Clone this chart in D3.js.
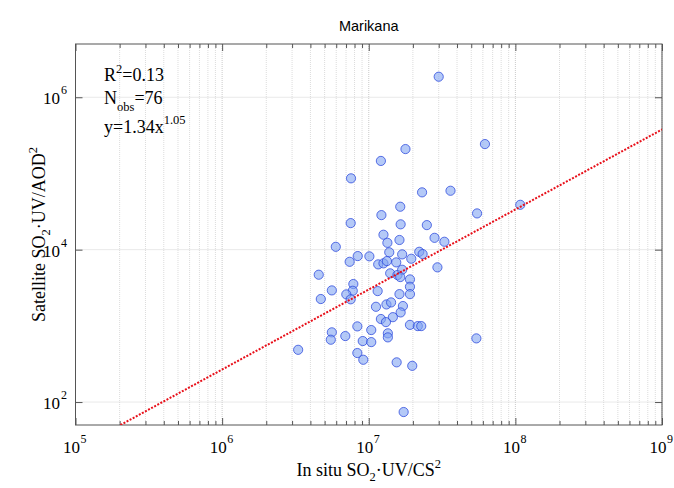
<!DOCTYPE html>
<html><head><meta charset="utf-8">
<script src="https://cdn.jsdelivr.net/npm/d3@7"></script>
<style>body{margin:0;background:#fff}svg{display:block}</style>
</head><body>
<svg id="chart" width="674" height="488"></svg>
<script>
// ---- data ----
const insituValues = [
  3.0e7, 6.2e7, 1.78e7, 1.21e7, 7.57e6, 2.31e7, 3.61e7, 1.08e8, 1.64e7, 1.22e7,
  5.48e7, 7.53e6, 1.65e7, 2.49e7, 1.26e7, 2.81e7, 1.34e7, 1.62e7, 3.28e7, 5.96e6,
  1.38e7, 1.69e7, 2.21e7, 2.33e7, 1.95e7, 7.41e6, 8.41e6, 1.01e7, 1.16e7, 1.26e7,
  1.33e7, 1.54e7, 2.94e7, 4.56e6, 1.40e7, 1.57e7, 1.69e7, 1.64e7, 1.91e7, 7.85e6,
  5.60e6, 7.78e6, 7.03e6, 1.15e7, 1.91e7, 1.62e7, 1.91e7, 4.71e6, 7.53e6, 1.32e7,
  1.42e7, 1.12e7, 1.71e7, 1.65e7, 1.46e7, 1.21e7, 1.31e7, 1.91e7, 2.16e7, 2.28e7,
  8.36e6, 5.60e6, 5.51e6, 6.92e6, 1.04e7, 9.10e6, 1.04e7, 1.35e7, 1.35e7, 5.42e7,
  3.30e6, 8.36e6, 9.18e6, 1.55e7, 1.98e7, 1.73e7
];
const satelliteValues = [
  1.86e6, 2.43e5, 2.09e5, 1.46e5, 8.63e4, 5.65e4, 5.93e4, 3.88e4, 3.66e4, 2.84e4,
  2.99e4, 2.23e4, 2.15e4, 2.10e4, 1.57e4, 1.43e4, 1.23e4, 1.34e4, 1.27e4, 1.09e4,
  9230, 8670, 9380, 8750, 7600, 6930, 8240, 8170, 6410, 6610,
  7080, 6810, 5860, 4690, 4890, 4650, 5450, 4370, 4070, 3540,
  2920, 2890, 2590, 2860, 3260, 2610, 2610, 2250, 2230, 1910,
  2030, 1780, 1820, 1500, 1300, 1230, 1120, 1030, 993, 993,
  984, 822, 658, 735, 881, 632, 612, 798, 706, 685,
  485, 440, 359, 332, 299, 74
];
const xTickExponents = [5, 6, 7, 8, 9];
const yTickExponents = [2, 4, 6];
const fitCoefficient = 1.34e-4;
const fitExponent = 1.05;
const titleText = "Marikana";
const statR2 = "0.13";
const statNobs = "76";
const statFitCoef = "1.34";
const statFitExp = "1.05";

// ---- layout ----
const svg = d3.select("#chart");
const L = 75.5, R = 662, T = 44, B = 425;
const x = d3.scaleLog().domain([1e5, 1e9]).range([L, R]);
const y = d3.scaleLog().domain([50, 5e6]).range([B, T]);
const serif = "'Liberation Serif','Times New Roman',Times,serif";
const sans = "'Liberation Sans',Arial,Helvetica,sans-serif";

svg.append("rect").attr("width", 674).attr("height", 488).attr("fill", "#fff");

// grid
const minorX = [];
for (let e = 5; e < 9; e++) for (let m = 2; m <= 9; m++) minorX.push(m * Math.pow(10, e));
const majorX = xTickExponents.map(e => Math.pow(10, e));
const majorY = yTickExponents.map(e => Math.pow(10, e));
const g = svg.append("g");
g.selectAll(".gmx").data(minorX).join("line")
  .attr("x1", d => x(d)).attr("x2", d => x(d)).attr("y1", T).attr("y2", B)
  .attr("stroke", "#dcdcdc").attr("stroke-width", 1).attr("stroke-dasharray", "1,1");
g.selectAll(".gMx").data(majorX).join("line")
  .attr("x1", d => x(d)).attr("x2", d => x(d)).attr("y1", T).attr("y2", B)
  .attr("stroke", "#cacaca").attr("stroke-width", 1).attr("stroke-dasharray", "1,1");
g.selectAll(".gMy").data(majorY).join("line")
  .attr("x1", L).attr("x2", R).attr("y1", d => y(d)).attr("y2", d => y(d))
  .attr("stroke", "#d2d2d2").attr("stroke-width", 1).attr("stroke-dasharray", "1,1");

// axes (ticks inward)
const axB = d3.axisBottom(x).tickValues(majorX).tickSize(-7).tickFormat("");
const axT = d3.axisTop(x).tickValues(majorX).tickSize(-7).tickFormat("");
const axBm = d3.axisBottom(x).tickValues(minorX).tickSize(-4).tickFormat("");
const axTm = d3.axisTop(x).tickValues(minorX).tickSize(-4).tickFormat("");
const axL = d3.axisLeft(y).tickValues(majorY).tickSize(-7).tickFormat("");
const axR = d3.axisRight(y).tickValues(majorY).tickSize(-7).tickFormat("");
[[axB, `translate(0,${B})`], [axBm, `translate(0,${B})`], [axT, `translate(0,${T})`], [axTm, `translate(0,${T})`],
 [axL, `translate(${L},0)`], [axR, `translate(${R},0)`]].forEach(([a, tr]) => {
  const gg = svg.append("g").attr("transform", tr).call(a);
  gg.select(".domain").remove();
  gg.selectAll("line").attr("stroke", "#555");
});
svg.append("rect").attr("x", L).attr("y", T).attr("width", R - L).attr("height", B - T)
  .attr("fill", "none").attr("stroke", "#555").attr("stroke-width", 1);

// tick labels
const xl = svg.append("g").attr("font-family", serif).attr("fill", "#000");
xTickExponents.forEach(e => {
  const px = x(Math.pow(10, e)) - 4;
  xl.append("text").attr("x", px).attr("y", 453).attr("text-anchor", "middle").attr("font-size", 17).text("10");
  xl.append("text").attr("x", px + 9).attr("y", 443).attr("font-size", 12).text(e);
});
const yl = svg.append("g").attr("font-family", serif).attr("fill", "#000");
yTickExponents.forEach(e => {
  const py = y(Math.pow(10, e));
  yl.append("text").attr("x", 60).attr("y", py + 7).attr("text-anchor", "end").attr("font-size", 17).text("10");
  yl.append("text").attr("x", 61).attr("y", py - 3).attr("font-size", 12).text(e);
});

// clip
svg.append("clipPath").attr("id", "clip").append("rect")
  .attr("x", L).attr("y", T).attr("width", R - L).attr("height", B - T);

// points
const pts = insituValues.map((v, i) => [v, satelliteValues[i]]);
svg.append("g").attr("clip-path", "url(#clip)").selectAll("circle").data(pts).join("circle")
  .attr("cx", d => x(d[0])).attr("cy", d => y(d[1])).attr("r", 4.6)
  .attr("fill", "rgba(130,165,242,0.6)").attr("stroke", "rgba(40,70,220,0.75)").attr("stroke-width", 1);

// fit line
const fit = v => fitCoefficient * Math.pow(v, fitExponent);
const xStart = Math.pow(y.domain()[0] / fitCoefficient, 1 / fitExponent);
const fitX = d3.range(0, 51).map(i => xStart * Math.pow(1e9 / xStart, i / 50));
svg.append("path").attr("clip-path", "url(#clip)")
  .datum(fitX)
  .attr("d", d3.line().x(d => x(d)).y(d => y(fit(d))))
  .attr("fill", "none").attr("stroke", "#e8101a").attr("stroke-width", 2).attr("stroke-dasharray", "2,1.5");

// title
svg.append("text").attr("x", (L + R) / 2).attr("y", 31).attr("text-anchor", "middle")
  .attr("font-family", sans).attr("font-size", 14.5).text(titleText);

// x label
const xlab = svg.append("text").attr("x", (L + R) / 2).attr("y", 476).attr("text-anchor", "middle")
  .attr("font-family", serif).attr("font-size", 18);
xlab.append("tspan").text("In situ SO");
xlab.append("tspan").attr("font-size", 12.5).attr("dy", 5).text("2");
xlab.append("tspan").attr("dy", -5).text("·UV/CS");
xlab.append("tspan").attr("font-size", 12.5).attr("dy", -8).text("2");

// y label
const ylab = svg.append("text").attr("transform", `translate(45,${(T + B) / 2}) rotate(-90)`)
  .attr("text-anchor", "middle").attr("font-family", serif).attr("font-size", 18);
ylab.append("tspan").text("Satellite SO");
ylab.append("tspan").attr("font-size", 12.5).attr("dy", 5).text("2");
ylab.append("tspan").attr("dy", -5).text("·UV/AOD");
ylab.append("tspan").attr("font-size", 12.5).attr("dy", -8).text("2");

// stats annotation
const ann = svg.append("g").attr("font-family", serif).attr("font-size", 18).attr("fill", "#000");
const t1 = ann.append("text").attr("x", 104).attr("y", 81);
t1.append("tspan").text("R");
t1.append("tspan").attr("font-size", 12.5).attr("dy", -8).text("2");
t1.append("tspan").attr("dy", 8).text("=" + statR2);
const t2 = ann.append("text").attr("x", 104).attr("y", 104);
t2.append("tspan").text("N");
t2.append("tspan").attr("font-size", 12.5).attr("dy", 7).text("obs");
t2.append("tspan").attr("dy", -7).text("=" + statNobs);
const t3 = ann.append("text").attr("x", 104).attr("y", 133);
t3.append("tspan").text("y=" + statFitCoef + "x");
t3.append("tspan").attr("font-size", 12.5).attr("dy", -9).text(statFitExp);
</script>
</body></html>
